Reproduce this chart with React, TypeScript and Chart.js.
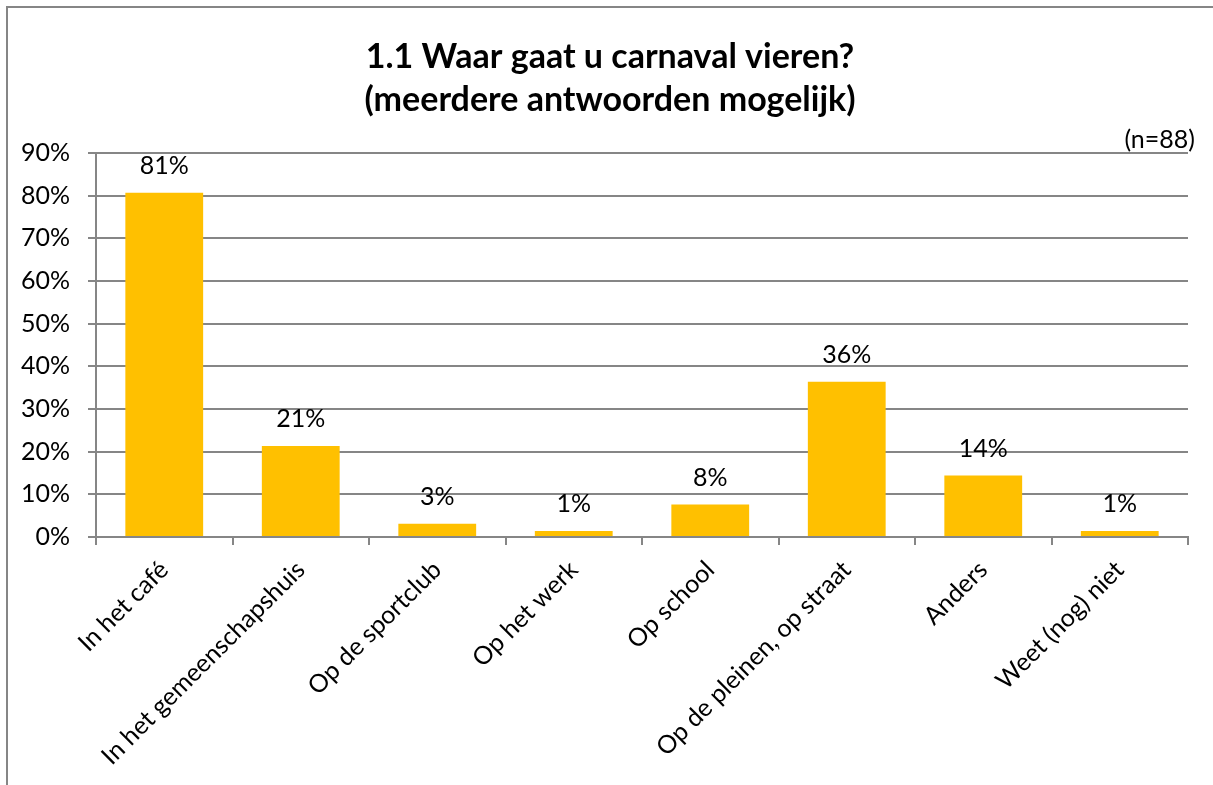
import React, { useEffect, useRef } from "react";
import { Chart, registerables } from "chart.js";

Chart.register(...registerables);

const categories = [
  "In het café",
  "In het gemeenschapshuis",
  "Op de sportclub",
  "Op het werk",
  "Op school",
  "Op de pleinen, op straat",
  "Anders",
  "Weet (nog) niet",
];
const values = [80.7, 21.3, 3.1, 1.4, 7.6, 36.4, 14.4, 1.4];
const titleLines = ["1.1 Waar gaat u carnaval vieren?", "(meerdere antwoorden mogelijk)"];
const noteText = "(n=88)";
const yMax = 90;
const yStep = 10;

const FONT = "Lato, 'Open Sans', sans-serif";
const GRID = "#868686";
const BAR = "#FFC000";

const decorPlugin = {
  id: "decor",
  afterDraw(chart: any) {
    const ctx = chart.ctx;
    ctx.save();
    // frame
    ctx.strokeStyle = GRID;
    ctx.lineWidth = 2;
    ctx.beginPath();
    ctx.moveTo(7, chart.height + 5);
    ctx.lineTo(7, 7);
    ctx.lineTo(chart.width + 5, 7);
    ctx.stroke();
    // value labels
    const meta = chart.getDatasetMeta(0);
    ctx.fillStyle = "#000";
    ctx.font = `25px ${FONT}`;
    ctx.textAlign = "center";
    ctx.textBaseline = "middle";
    meta.data.forEach((bar: any, i: number) => {
      ctx.fillText(Math.round(values[i]) + "%", bar.x, bar.y - 27);
    });
    // note
    ctx.textAlign = "right";
    ctx.fillText(noteText, 1195, 140);
    ctx.restore();
  },
};

export default function App() {
  const ref = useRef<HTMLCanvasElement>(null);
  useEffect(() => {
    if (!ref.current) return;
    const chart = new Chart(ref.current, {
      type: "bar",
      data: {
        labels: categories,
        datasets: [
          {
            data: values,
            backgroundColor: BAR,
            borderWidth: 0,
            barPercentage: 0.57,
            categoryPercentage: 1,
          },
        ],
      },
      options: {
        responsive: false,
        animation: false,
        layout: { padding: { left: 7, right: 0, top: 0, bottom: 0 } },
        plugins: {
          legend: { display: false },
          tooltip: { enabled: false },
          title: {
            display: true,
            text: titleLines,
            color: "#000",
            font: { family: FONT, size: 34, weight: "bold", lineHeight: 1.265 },
            padding: { top: 35.5, bottom: 31.5 },
          },
        },
        scales: {
          x: {
            grid: {
              offset: true,
              drawOnChartArea: false,
              drawTicks: true,
              tickLength: 8,
              color: GRID,
              lineWidth: 2,
            },
            border: { display: true, color: GRID, width: 2 },
            ticks: {
              color: "#000",
              font: { family: FONT, size: 25 },
              minRotation: 45,
              maxRotation: 45,
              autoSkip: false,
              padding: 10,
            },
            afterFit(scale: any) {
              scale.height = 248;
            },
          },
          y: {
            min: 0,
            max: yMax,
            grid: {
              color: GRID,
              lineWidth: 2,
              drawTicks: true,
              tickLength: 8,
            },
            border: { display: true, color: GRID, width: 2 },
            ticks: {
              stepSize: yStep,
              color: "#000",
              font: { family: FONT, size: 25 },
              padding: 18,
              callback: (v: any) => v + "%",
            },
            afterFit(scale: any) {
              scale.width = 89;
            },
          },
          yRight: {
            position: "right",
            display: true,
            grid: { display: false, drawTicks: false },
            border: { display: false },
            ticks: { display: false },
            afterFit(scale: any) {
              scale.width = 25;
            },
          },
        },
      },
      plugins: [decorPlugin],
    });
    return () => chart.destroy();
  }, []);
  return (
    <div style={{ position: "fixed", left: 0, top: 0, width: 1213, height: 785, background: "#fff" }}>
      <canvas ref={ref} width={1213} height={785} style={{ display: "block" }} />
    </div>
  );
}
